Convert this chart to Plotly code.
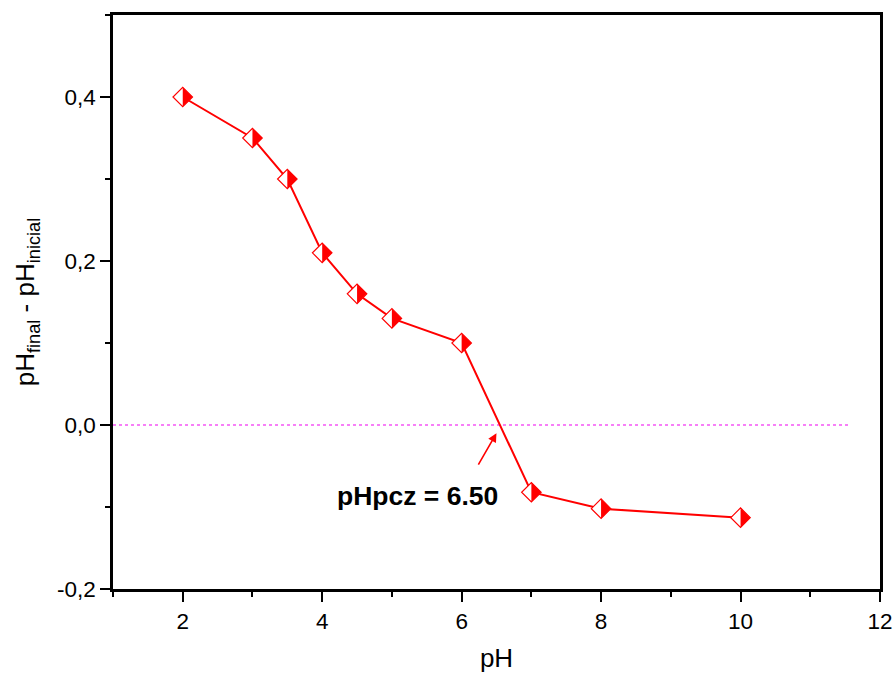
import plotly.graph_objects as go

# Data
ph_initial = [2, 3, 3.5, 4, 4.5, 5, 6, 7, 8, 10]
delta_ph = [0.40, 0.35, 0.30, 0.21, 0.16, 0.13, 0.10, -0.082, -0.102, -0.113]
pzc_value = 6.50
y_ticks = [-0.2, 0.0, 0.2, 0.4]
y_ticklabels = ["-0,2", "0,0", "0,2", "0,4"]
x_ticks = [2, 4, 6, 8, 10, 12]

RED = "#ff0000"
FONT = "Liberation Sans, Arial, sans-serif"

W, H = 894, 675
ML, MR, MT, MB = 113, 14, 15, 86
X_RANGE = [1, 12]
Y_RANGE = [-0.2, 0.5]

# Half-filled diamond marker: white diamond with red outline + red right-half triangle
DIAMOND_SIZE = 15
TRI_SIZE = 15.3
px_per_unit = (W - ML - MR) / (X_RANGE[1] - X_RANGE[0])
shift = 0.424 * (TRI_SIZE / 2) / px_per_unit

fig = go.Figure()

fig.add_trace(go.Scatter(
    x=ph_initial, y=delta_ph, mode="lines+markers",
    line=dict(color=RED, width=2),
    marker=dict(symbol="diamond", size=DIAMOND_SIZE, color="white",
                line=dict(color=RED, width=1.2)),
    showlegend=False, hoverinfo="skip",
))

fig.add_trace(go.Scatter(
    x=ph_initial, y=delta_ph, mode="markers", xaxis="x2", yaxis="y",
    marker=dict(symbol="triangle-ne", size=TRI_SIZE, angle=45, color=RED,
                line=dict(width=0)),
    showlegend=False, hoverinfo="skip",
))

# Dotted zero reference line
fig.add_shape(type="line", x0=X_RANGE[0], x1=11.57, y0=0, y1=0,
              xref="x", yref="y",
              line=dict(color="#f000f0", width=1.2, dash="dot"), layer="below")

# Annotation arrow + text
fig.add_annotation(x=pzc_value, y=-0.01, xref="x", yref="y", text="",
                   showarrow=True, arrowhead=2, arrowsize=1.1, arrowwidth=1.6,
                   arrowcolor=RED, ax=-19, ay=33, standoff=0, startstandoff=0)
fig.add_annotation(x=5.37, y=-0.086, xref="x", yref="y",
                   text="<b>pHpcz = 6.50</b>", showarrow=False,
                   font=dict(family=FONT, size=26.5, color="black"))

axis_common = dict(
    showline=True, linecolor="black", linewidth=2.5, mirror=True,
    ticks="outside", ticklen=10, tickwidth=2, tickcolor="black",
    showgrid=False, zeroline=False, automargin=False,
    tickfont=dict(family=FONT, size=22.5, color="black"),
)

fig.update_layout(
    width=W, height=H,
    margin=dict(l=ML, r=MR, t=MT, b=MB),
    paper_bgcolor="white", plot_bgcolor="white",
    font=dict(family=FONT, color="black"),
    xaxis=dict(
        range=X_RANGE, tickvals=x_ticks,
        minor=dict(ticks="outside", ticklen=5, tickwidth=2, tickcolor="black",
                   dtick=1, tick0=1),
        title=dict(text="pH", font=dict(family=FONT, size=26), standoff=17),
        **axis_common,
    ),
    xaxis2=dict(range=[X_RANGE[0] - shift, X_RANGE[1] - shift],
                overlaying="x", anchor="y", visible=False),
    yaxis=dict(
        range=Y_RANGE, tickvals=y_ticks, ticktext=y_ticklabels,
        minor=dict(ticks="outside", ticklen=5, tickwidth=2, tickcolor="black",
                   dtick=0.1, tick0=0),
        title=dict(text="pH<sub>final</sub> - pH<sub>inicial</sub>",
                   font=dict(family=FONT, size=26), standoff=15),
        **axis_common,
    ),
)

fig.write_html(
    "out.html",
    config={"displayModeBar": False},
    post_script="document.body.style.margin='0';document.body.style.overflow='hidden';",
)
